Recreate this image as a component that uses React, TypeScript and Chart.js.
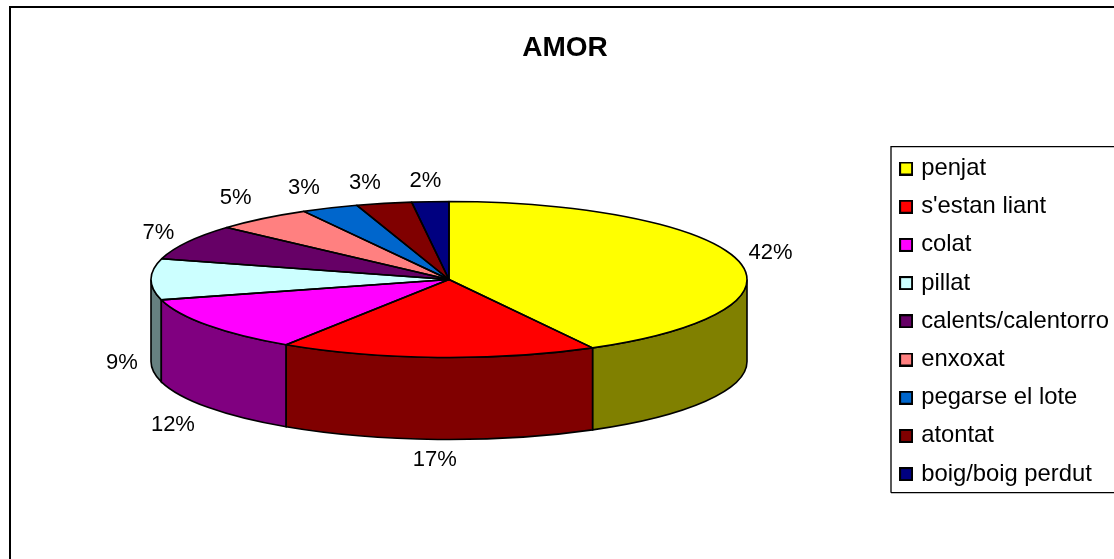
import React, { useEffect, useRef } from "react";
import { Chart, registerables } from "chart.js";

Chart.register(...registerables);

const categories = ["penjat", "s'estan liant", "colat", "pillat", "calents/calentorro", "enxoxat", "pegarse el lote", "atontat", "boig/boig perdut"];
const values = [42, 17.2, 11.6, 8.5, 7.3, 5.3, 3.1, 3, 2];
const topColors = ["#FFFF00", "#FF0000", "#FF00FF", "#CCFFFF", "#660066", "#FF8080", "#0066CC", "#800000", "#000080"];
const wallColors = ["#808000", "#800000", "#800080", "#668080", "#330033", "#804040", "#003366", "#400000", "#000040"];
const labelNudges = [[33, -7], [-3, 20], [-35, 18], [-29, 2], [-29, -9], [-27, -21], [-26, -20], [-19, -20], [-5, -21]];

const FONT = '"Liberation Sans", Arial, sans-serif';
const CX = 449, CY = 279.5, RX = 298, RY = 78, DEPTH = 82;

function swatch(color: string) {
  const c = document.createElement("canvas");
  c.width = 14; c.height = 14;
  const g = c.getContext("2d")!;
  g.fillStyle = color; g.fillRect(0, 0, 14, 14);
  g.strokeStyle = "#000"; g.lineWidth = 2; g.strokeRect(1, 1, 12, 12);
  return c;
}

function corner(ctx: CanvasRenderingContext2D, left: number, top: number, right: number, bottom: number) {
  ctx.beginPath();
  ctx.moveTo(left, bottom);
  ctx.lineTo(left, top);
  ctx.lineTo(right, top);
  ctx.stroke();
}

const pie3d = {
  id: "pie3d",
  beforeDraw(chart: any) {
    const { ctx } = chart;
    ctx.save();
    ctx.strokeStyle = "#000"; ctx.lineWidth = 2;
    corner(ctx, 10, 7, 1114, 559);
    ctx.lineWidth = 1.3;
    corner(ctx, 891, 146.7, 1114, 492.7);
    ctx.beginPath();
    ctx.moveTo(891, 492.7);
    ctx.lineTo(1114, 492.7);
    ctx.stroke();
    ctx.restore();
  },
  beforeDatasetsDraw(chart: any) {
    const { ctx } = chart;
    const arcs = chart.getDatasetMeta(0).data;
    ctx.save();
    ctx.strokeStyle = "#000"; ctx.lineWidth = 1.6;
    const order = arcs.map((_: any, i: number) => i);
    order.sort((a: number, b: number) => {
      const ma = (arcs[a].startAngle + arcs[a].endAngle) / 2;
      const mb = (arcs[b].startAngle + arcs[b].endAngle) / 2;
      return Math.abs(ma - Math.PI / 2) > Math.abs(mb - Math.PI / 2) ? -1 : 1;
    });
    order.forEach((i: number) => {
      const s = Math.max(arcs[i].startAngle, 0);
      const e = Math.min(arcs[i].endAngle, Math.PI);
      if (e <= s) return;
      ctx.beginPath();
      ctx.ellipse(CX, CY, RX, RY, 0, s, e);
      ctx.lineTo(CX + RX * Math.cos(e), CY + RY * Math.sin(e) + DEPTH);
      ctx.ellipse(CX, CY + DEPTH, RX, RY, 0, e, s, true);
      ctx.closePath();
      ctx.fillStyle = wallColors[i];
      ctx.fill();
      ctx.stroke();
    });
    ctx.restore();
    const a0 = arcs[0];
    ctx.save();
    ctx.translate(CX, CY);
    ctx.scale(RX / a0.outerRadius, RY / a0.outerRadius);
    ctx.translate(-a0.x, -a0.y);
  },
  afterDatasetsDraw(chart: any) {
    const { ctx } = chart;
    ctx.restore();
    const arcs = chart.getDatasetMeta(0).data;
    ctx.save();
    ctx.strokeStyle = "#000"; ctx.lineWidth = 1.6; ctx.lineJoin = "round";
    arcs.forEach((a: any) => {
      ctx.beginPath();
      ctx.moveTo(CX, CY);
      ctx.ellipse(CX, CY, RX, RY, 0, a.startAngle, a.endAngle);
      ctx.closePath();
      ctx.stroke();
    });
    ctx.font = `22px ${FONT}`;
    ctx.fillStyle = "#000";
    ctx.textAlign = "center";
    ctx.textBaseline = "middle";
    arcs.forEach((a: any, i: number) => {
      const m = (a.startAngle + a.endAngle) / 2;
      const lower = i >= 1 && i <= 3 ? DEPTH : 0;
      const x = CX + RX * Math.cos(m) + labelNudges[i][0];
      const y = CY + RY * Math.sin(m) + lower + labelNudges[i][1];
      ctx.fillText(`${Math.round(values[i])}%`, x, y);
    });
    ctx.restore();
  },
};

export default function App() {
  const ref = useRef<HTMLCanvasElement>(null);
  useEffect(() => {
    const chart = new Chart(ref.current!, {
      type: "pie",
      data: {
        labels: categories,
        datasets: [{ data: values, backgroundColor: topColors, borderWidth: 0, clip: false } as any],
      },
      options: {
        animation: false,
        responsive: false,
        devicePixelRatio: 1,
        radius: 298,
        layout: { padding: { left: 11, right: -5, top: 0, bottom: 0 } },
        events: [],
        plugins: {
          tooltip: { enabled: false },
          title: {
            display: true,
            text: "AMOR",
            color: "#000",
            font: { family: FONT, size: 28, weight: "bold", lineHeight: 1.2 },
            padding: { top: 31, bottom: 19 },
          },
          legend: {
            position: "right",
            fullSize: false,
            labels: {
              color: "#000",
              font: { family: FONT, size: 23.8, lineHeight: 1.2 },
              usePointStyle: true,
              pointStyleWidth: 6.4,
              padding: 14.4,
              generateLabels: () =>
                categories.map((text, i) => ({
                  text,
                  fillStyle: topColors[i],
                  strokeStyle: "#000",
                  lineWidth: 0,
                  pointStyle: swatch(topColors[i]),
                  index: i,
                  hidden: false,
                })),
            },
          },
        },
      } as any,
      plugins: [pie3d],
    });
    return () => chart.destroy();
  }, []);
  return (
    <div style={{ position: "fixed", left: 0, top: 0, width: 1114, height: 559, background: "#fff" }}>
      <canvas ref={ref} width={1114} height={559} style={{ display: "block" }} />
    </div>
  );
}
